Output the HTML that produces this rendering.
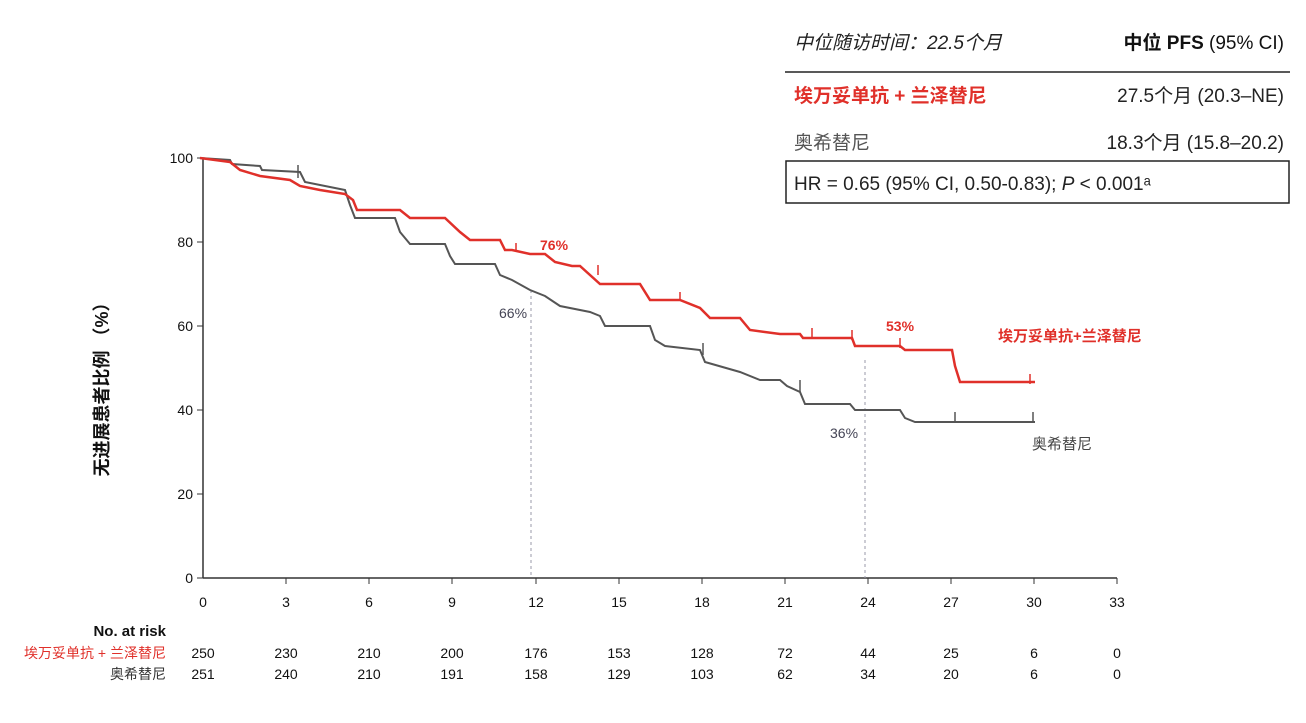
<!DOCTYPE html>
<html><head><meta charset="utf-8"><style>
body{margin:0;background:#fff;}
svg text{font-family:"Liberation Sans","Noto Sans CJK SC",sans-serif;}
</style></head><body>
<svg width="1306" height="718" viewBox="0 0 1306 718" xmlns="http://www.w3.org/2000/svg">
<rect width="1306" height="718" fill="#fff"/>
<text x="794" y="49" font-size="19" font-style="italic" fill="#222">中位随访时间：22.5个月</text>
<text x="1284" y="49" font-size="19" fill="#111" text-anchor="end" font-weight="bold">中位 PFS <tspan font-weight="normal">(95% CI)</tspan></text>
<line x1="785" y1="72" x2="1290" y2="72" stroke="#222" stroke-width="1.5"/>
<text x="794" y="102" font-size="19" fill="#e0302a" font-weight="bold">埃万妥单抗 + 兰泽替尼</text>
<text x="1284" y="102" font-size="19" fill="#222" text-anchor="end">27.5个月 (20.3–NE)</text>
<text x="794" y="149" font-size="19" fill="#555">奥希替尼</text>
<text x="1284" y="149" font-size="19" fill="#222" text-anchor="end">18.3个月 (15.8–20.2)</text>
<rect x="786" y="161" width="503" height="42" fill="none" stroke="#222" stroke-width="1.5"/>
<text x="794" y="190" font-size="19" fill="#222">HR = 0.65 (95% CI, 0.50-0.83); <tspan font-style="italic">P</tspan> &lt; 0.001ᵃ</text>
<line x1="203" y1="158" x2="203" y2="578" stroke="#333" stroke-width="1.5"/>
<line x1="203" y1="578" x2="1117" y2="578" stroke="#333" stroke-width="1.5"/>
<g font-size="14" fill="#111" text-anchor="end">
<text x="193" y="163">100</text><text x="193" y="247">80</text><text x="193" y="331">60</text><text x="193" y="415">40</text><text x="193" y="499">20</text><text x="193" y="583">0</text>
</g>
<g stroke="#333"><line x1="197" y1="158" x2="203" y2="158"/><line x1="197" y1="242" x2="203" y2="242"/><line x1="197" y1="326" x2="203" y2="326"/><line x1="197" y1="410" x2="203" y2="410"/><line x1="197" y1="494" x2="203" y2="494"/><line x1="197" y1="578" x2="203" y2="578"/></g>
<g font-size="14" fill="#111" text-anchor="middle">
<text x="203" y="607">0</text><text x="286" y="607">3</text><text x="369" y="607">6</text><text x="452" y="607">9</text><text x="536" y="607">12</text><text x="619" y="607">15</text><text x="702" y="607">18</text><text x="785" y="607">21</text><text x="868" y="607">24</text><text x="951" y="607">27</text><text x="1034" y="607">30</text><text x="1117" y="607">33</text>
</g>
<g stroke="#333"><line x1="286" y1="578" x2="286" y2="584"/><line x1="369" y1="578" x2="369" y2="584"/><line x1="452" y1="578" x2="452" y2="584"/><line x1="536" y1="578" x2="536" y2="584"/><line x1="619" y1="578" x2="619" y2="584"/><line x1="702" y1="578" x2="702" y2="584"/><line x1="785" y1="578" x2="785" y2="584"/><line x1="868" y1="578" x2="868" y2="584"/><line x1="951" y1="578" x2="951" y2="584"/><line x1="1034" y1="578" x2="1034" y2="584"/><line x1="1117" y1="578" x2="1117" y2="584"/></g>
<text transform="translate(108,385) rotate(-90)" font-size="18" font-weight="bold" fill="#111" text-anchor="middle">无进展患者比例 （%）</text>
<line x1="531" y1="290" x2="531" y2="578" stroke="#99a" stroke-dasharray="3,3"/>
<line x1="865" y1="360" x2="865" y2="578" stroke="#99a" stroke-dasharray="3,3"/>
<polyline fill="none" stroke="#555" stroke-width="2" points="200,158 230,160 232,164 260,166 262,170 300,172 302,176 305,182 345,190 350,205 355,218 395,218 400,232 410,244 445,244 450,256 455,264 495,264 500,275 512,280 530,290 545,296 560,306 590,312 600,316 605,326 650,326 655,340 665,346 700,350 705,362 740,372 760,380 780,380 787,386 800,392 805,404 850,404 855,410 900,410 905,418 915,422 1035,422"/>
<g stroke="#555" stroke-width="1.5"><line x1="298" y1="165" x2="298" y2="178"/><line x1="703" y1="343" x2="703" y2="355"/><line x1="800" y1="380" x2="800" y2="392"/><line x1="955" y1="412" x2="955" y2="422"/><line x1="1033" y1="412" x2="1033" y2="422"/></g>
<polyline fill="none" stroke="#e0302a" stroke-width="2.5" points="200,158 230,162 240,170 260,176 290,180 300,186 320,190 345,194 353,200 357,210 400,210 410,218 445,218 460,232 470,240 500,240 505,250 512,250 530,254 545,254 555,262 572,266 580,266 600,284 640,284 650,300 680,300 700,308 710,318 740,318 750,330 780,334 800,334 803,338 852,338 855,346 900,346 905,350 952,350 955,366 960,382 1035,382"/>
<g stroke="#e0302a" stroke-width="1.5"><line x1="516" y1="243" x2="516" y2="252"/><line x1="598" y1="265" x2="598" y2="275"/><line x1="680" y1="292" x2="680" y2="301"/><line x1="812" y1="328" x2="812" y2="338"/><line x1="852" y1="330" x2="852" y2="340"/><line x1="900" y1="338" x2="900" y2="348"/><line x1="1030" y1="374" x2="1030" y2="384"/></g>
<text x="540" y="250" font-size="14" fill="#e0302a" font-weight="bold">76%</text>
<text x="499" y="318" font-size="14" fill="#445">66%</text>
<text x="886" y="331" font-size="14" fill="#e0302a" font-weight="bold">53%</text>
<text x="830" y="438" font-size="14" fill="#445">36%</text>
<text x="998" y="341" font-size="15" fill="#e0302a" font-weight="bold">埃万妥单抗+兰泽替尼</text>
<text x="1032" y="449" font-size="15" fill="#444">奥希替尼</text>
<text x="166" y="636" font-size="15" fill="#111" font-weight="bold" text-anchor="end">No. at risk</text>
<text x="166" y="658" font-size="14" fill="#e0302a" text-anchor="end">埃万妥单抗 + 兰泽替尼</text>
<text x="166" y="679" font-size="14" fill="#333" text-anchor="end">奥希替尼</text>
<g font-size="14" fill="#111" text-anchor="middle">
<text x="203" y="658">250</text><text x="286" y="658">230</text><text x="369" y="658">210</text><text x="452" y="658">200</text><text x="536" y="658">176</text><text x="619" y="658">153</text><text x="702" y="658">128</text><text x="785" y="658">72</text><text x="868" y="658">44</text><text x="951" y="658">25</text><text x="1034" y="658">6</text><text x="1117" y="658">0</text>
<text x="203" y="679">251</text><text x="286" y="679">240</text><text x="369" y="679">210</text><text x="452" y="679">191</text><text x="536" y="679">158</text><text x="619" y="679">129</text><text x="702" y="679">103</text><text x="785" y="679">62</text><text x="868" y="679">34</text><text x="951" y="679">20</text><text x="1034" y="679">6</text><text x="1117" y="679">0</text>
</g>
</svg>
</body></html>
